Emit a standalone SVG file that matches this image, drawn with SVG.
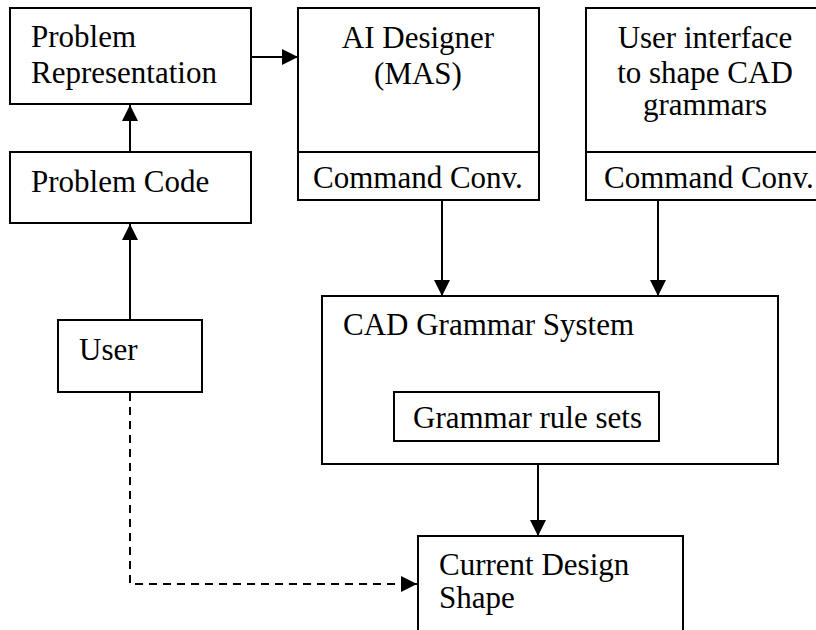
<svg xmlns="http://www.w3.org/2000/svg" width="816" height="630" viewBox="0 0 816 630">
<style>
.box{fill:#fff;stroke:#000;stroke-width:2}
.t{font-family:"Liberation Serif","Times New Roman",serif;font-size:31px;fill:#000}
.c{text-anchor:middle}
.ln{fill:none;stroke:#000;stroke-width:2}
.dash{stroke-dasharray:8,6}
</style>
<defs>
<marker id="arr" markerUnits="userSpaceOnUse" markerWidth="17" markerHeight="16" refX="16" refY="8" orient="auto">
<path d="M0,0 L16,8 L0,16 Z" fill="#000"/>
</marker>
</defs>
<g id="connectors">
<line class="ln" x1="251" y1="57" x2="298" y2="57" marker-end="url(#arr)"/>
<line class="ln" x1="130" y1="152" x2="130" y2="105" marker-end="url(#arr)"/>
<line class="ln" x1="130" y1="320" x2="130" y2="224" marker-end="url(#arr)"/>
<line class="ln" x1="442" y1="200" x2="442" y2="296" marker-end="url(#arr)"/>
<line class="ln" x1="658" y1="200" x2="658" y2="296" marker-end="url(#arr)"/>
<line class="ln" x1="538" y1="464" x2="538" y2="536" marker-end="url(#arr)"/>
<polyline class="ln dash" points="130,393 130,584 417,584" marker-end="url(#arr)"/>
</g>
<g id="problem-representation">
<rect class="box" x="10" y="8" width="241" height="96"/>
<text class="t" x="31" y="47">Problem</text>
<text class="t" x="31" y="83">Representation</text>
</g>
<g id="problem-code">
<rect class="box" x="10" y="152" width="241" height="71"/>
<text class="t" x="31" y="192">Problem Code</text>
</g>
<g id="ai-designer">
<rect class="box" x="298" y="8" width="241" height="192"/>
<line class="ln" x1="298" y1="152" x2="539" y2="152"/>
<text class="t c" x="418" y="48">AI Designer</text>
<text class="t c" x="418" y="84">(MAS)</text>
<text class="t" x="313" y="188">Command Conv.</text>
</g>
<g id="user-interface">
<rect class="box" x="586" y="8" width="245" height="192"/>
<line class="ln" x1="586" y1="152" x2="831" y2="152"/>
<text class="t c" x="705" y="48">User interface</text>
<text class="t c" x="705" y="83">to shape CAD</text>
<text class="t c" x="705" y="115">grammars</text>
<text class="t" x="604" y="188">Command Conv.</text>
</g>
<g id="cad-grammar-system">
<rect class="box" x="322" y="296" width="456" height="168"/>
<text class="t" x="343" y="335">CAD Grammar System</text>
</g>
<g id="grammar-rule-sets">
<rect class="box" x="394" y="392" width="265" height="49"/>
<text class="t" x="413" y="428">Grammar rule sets</text>
</g>
<g id="user">
<rect class="box" x="58" y="320" width="144" height="72"/>
<text class="t" x="79" y="360">User</text>
</g>
<g id="current-design-shape">
<rect class="box" x="418" y="536" width="265" height="110"/>
<text class="t" x="439" y="575">Current Design</text>
<text class="t" x="439" y="608">Shape</text>
</g>
</svg>
